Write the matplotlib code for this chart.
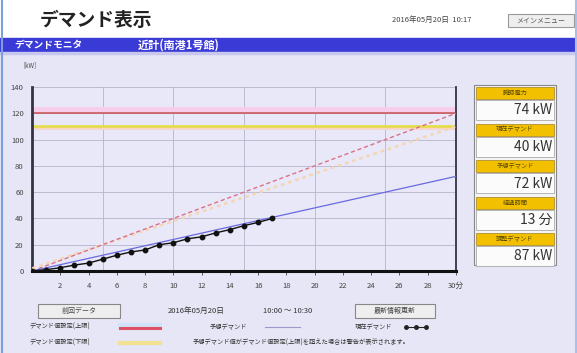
import matplotlib
matplotlib.use("Agg")
import matplotlib.pyplot as plt
from matplotlib.patches import Rectangle

plt.rcParams['font.family'] = ['Noto Sans CJK JP', 'DejaVu Sans']

# demand data (kW) for the 30 minute window
minutes = list(range(0, 18))
current_demand = [0, 1, 2.5, 4.5, 6, 9, 12, 14.5, 16, 20, 21.5,
                  24.5, 26, 29, 31.5, 34.5, 37, 40]
forecast_t = [0, 30]
forecast_kw = [0, 72]
target_t = [0, 30]
target_kw = [0, 120]
trend_t = [0, 30]
trend_kw = [2, 110]
upper_limit = 120
lower_limit = 110

x_ticks = list(range(2, 31, 2))
x_ticklabels = [str(v) for v in x_ticks[:-1]] + ["30分"]
y_ticks = list(range(0, 141, 20))

panel_titles = ["瞬時電力", "現在デマンド", "予想デマンド", "経過時間", "調整デマンド"]
panel_values = ["74 kW", "40 kW", "72 kW", "13 分", "87 kW"]

W, H = 577, 353
BG = "#e6e6f6"

fig = plt.figure(figsize=(W / 100, H / 100), dpi=100)
fig.patch.set_facecolor(BG)

# overlay in pixel coordinates for the page chrome
ui = fig.add_axes([0, 0, 1, 1])
ui.set_xlim(0, W)
ui.set_ylim(H, 0)
ui.axis("off")
ui.set_zorder(0)

ui.add_patch(Rectangle((0, 0), W, 38, color="white"))
ui.add_patch(Rectangle((0, 38), W, 14, color="#3a3ad6"))
ui.add_patch(Rectangle((0, 52), W, 2, color="#c8c8ee"))
ui.plot([2, 2], [0, H], color="#7aa0e0", lw=1.5)
ui.plot([W - 1, W - 1], [0, H], color="#a8c0ec", lw=1.5)

ui.text(40, 20, "デマンド表示", fontsize=13.5, fontweight="bold",
        va="center", ha="left", color="#222222")
ui.text(392, 20, "2016年05月20日  10:17", fontsize=5.5, va="center",
        ha="left", color="#444444")
ui.add_patch(Rectangle((508, 14), 66, 13, facecolor="#eeeeee",
                       edgecolor="#999999", lw=0.8))
ui.text(541, 20.5, "メインメニュー", fontsize=5, va="center", ha="center",
        color="#555555")
ui.text(14, 45, "デマンドモニタ", fontsize=7, fontweight="bold",
        va="center", color="white")
ui.text(138, 45, "近計(南港1号館)", fontsize=8, fontweight="bold",
        va="center", color="white")
ui.text(23, 65, "[kW]", fontsize=4.5, va="center", color="#444444")

# right-hand summary panel
px0, px1 = 474, 556
ui.add_patch(Rectangle((px0, 85), px1 - px0, 180, facecolor="#f4f4f4",
                       edgecolor="#888888", lw=0.8))
for i, (title, value) in enumerate(zip(panel_titles, panel_values)):
    y0 = 87 + i * 36.5
    ui.add_patch(Rectangle((px0 + 2, y0), px1 - px0 - 4, 12,
                           facecolor="#f3c000", edgecolor="#b09030", lw=0.6))
    ui.text((px0 + px1) / 2, y0 + 6, title, fontsize=4.5, ha="center",
            va="center", color="#5a4a00")
    ui.add_patch(Rectangle((px0 + 2, y0 + 13), px1 - px0 - 4, 20,
                           facecolor="#fbfbfb", edgecolor="#aaaaaa", lw=0.6))
    ui.text(px1 - 4, y0 + 23.5, value, fontsize=10, ha="right", va="center",
            color="#333333")

# bottom controls and legend
ui.add_patch(Rectangle((38, 304), 82, 14, facecolor="#eeeeee",
                       edgecolor="#888888", lw=0.8))
ui.text(79, 311, "前回データ", fontsize=5, ha="center", va="center",
        color="#444444")
ui.text(168, 311, "2016年05月20日", fontsize=5.5, va="center",
        color="#333333")
ui.text(263, 311, "10:00 ～ 10:30", fontsize=5.5, va="center",
        color="#333333")
ui.add_patch(Rectangle((355, 304), 80, 14, facecolor="#eeeeee",
                       edgecolor="#888888", lw=0.8))
ui.text(395, 311, "最新情報更新", fontsize=5, ha="center", va="center",
        color="#444444")

ui.text(30, 327, "デマンド値設定(上限)", fontsize=4.5, va="center",
        color="#333333")
ui.plot([120, 160], [325, 325], color="#cfe4f8", lw=3)
ui.plot([120, 160], [327.5, 327.5], color="#e05064", lw=2.2)
ui.text(210, 327, "予想デマンド", fontsize=4.5, va="center", color="#333333")
ui.plot([265, 300], [327, 327], color="#9a9acc", lw=0.8)
ui.text(355, 327, "現在デマンド", fontsize=4.5, va="center", color="#333333")
ui.plot([406, 416, 426], [327, 327, 327], color="#222222", lw=0.8,
        marker="o", markersize=2.5)
ui.text(30, 343, "デマンド値設定(下限)", fontsize=4.5, va="center",
        color="#333333")
ui.plot([120, 160], [343, 343], color="#f0e290", lw=3)
ui.text(193, 343, "予想デマンド値がデマンド値設定(上限)を超えた場合は警告が表示されます。",
        fontsize=4.5, va="center", color="#333333")

# main demand chart
left, right, top, bottom = 32, 456, 87, 271
ax = fig.add_axes([left / W, (H - bottom) / H, (right - left) / W,
                   (bottom - top) / H])
ax.set_zorder(1)
ax.set_facecolor("#e8e8f8")
ax.set_xlim(0, 30)
ax.set_ylim(0, 140)

for y in y_ticks[1:]:
    ax.axhline(y, color="#b4b4cc", lw=0.6, zorder=1)
for x in range(5, 30, 5):
    ax.axvline(x, color="#b4b4cc", lw=0.6, zorder=1)

ax.axhspan(upper_limit, upper_limit + 5, color="#f6cdea", lw=0, zorder=1)
ax.axhline(upper_limit, color="#c85050", lw=1.1, zorder=2)
ax.axhspan(lower_limit - 3, lower_limit, color="#f6d6c8", lw=0, zorder=1)
ax.axhline(lower_limit + 0.5, color="#e6dc50", lw=2.0, zorder=2)

ax.plot(trend_t, trend_kw, color="#f4d6b4", lw=1.8, ls=(0, (1.5, 1.5)),
        zorder=3)
ax.plot(target_t, target_kw, color="#dc7088", lw=1.0, ls=(0, (3, 2)),
        zorder=3)
ax.plot(forecast_t, forecast_kw, color="#6a6ae0", lw=0.9, zorder=4)
ax.plot(minutes, current_demand, color="#111111", lw=1.0, marker="o",
        markersize=3.2, zorder=5)

ax.set_xticks(x_ticks)
ax.set_xticklabels(x_ticklabels)
ax.set_yticks(y_ticks)
ax.tick_params(axis="x", direction="out", length=3, pad=5, labelsize=5.5,
               colors="#444444", width=0.6)
ax.tick_params(axis="y", length=0, pad=6, labelsize=5.5, colors="#444444")

ax.spines["top"].set_visible(False)
ax.spines["left"].set_color("#333344")
ax.spines["left"].set_linewidth(2)
ax.spines["bottom"].set_color("#111111")
ax.spines["bottom"].set_linewidth(2.2)
ax.spines["right"].set_color("#333344")
ax.spines["right"].set_linewidth(1.3)

fig.savefig("out.png", dpi=100, facecolor=fig.get_facecolor())
